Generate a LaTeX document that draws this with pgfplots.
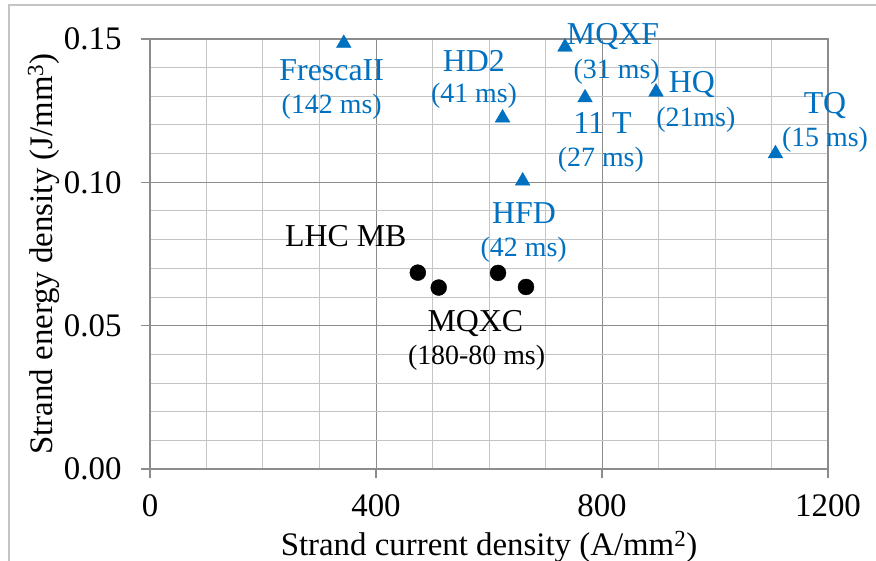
\documentclass[border=0pt]{standalone}
\usepackage{pgfplots}
\pgfplotsset{compat=1.18}
\usepackage{fontspec}
\setmainfont{Liberation Serif}
\definecolor{xblue}{HTML}{0070C0}
\definecolor{majgrid}{HTML}{8C8C8C}
\definecolor{mingrid}{HTML}{C4C4C4}
\newcommand{\bigf}{\fontsize{32}{38}\selectfont}
\newcommand{\labf}{\fontsize{33}{39}\selectfont}
\newcommand{\smf}{\fontsize{28}{33}\selectfont}
\begin{document}
\begin{tikzpicture}
\useasboundingbox (-150bp,-92bp) rectangle (726bp,469bp);
\draw[mingrid, line width=1.2bp] (-141bp,-92bp) -- (-141bp,464bp) -- (726bp,464bp);
\begin{axis}[
  scale only axis, width=678bp, height=430bp,
  xmin=0, xmax=1200, ymin=0, ymax=0.15,
  xtick={0,400,800,1200}, ytick={0,0.05,0.1,0.15},
  minor x tick num=3, minor y tick num=4,
  grid=both,
  major grid style={majgrid, line width=1bp},
  minor grid style={mingrid, line width=1bp},
  axis line style={majgrid, line width=1.2bp},
  xtick pos=bottom, ytick pos=left,
  tick align=outside, major tick length=9bp, minor tick length=0pt,
  tick style={majgrid, line width=1.2bp},
  /pgf/number format/assume math mode=true,
  ticklabel style={font=\labf, text=black},
  scaled y ticks=false,
  yticklabel style={/pgf/number format/fixed, /pgf/number format/precision=2, /pgf/number format/fixed zerofill, xshift=-16bp},
  xticklabel style={/pgf/number format/1000 sep={}, yshift=-13bp},
  xlabel={Strand current density (A/mm\textsuperscript{2})},
  ylabel={Strand energy density (J/mm\textsuperscript{3})},
  label style={font=\labf},
  xlabel style={at={(axis description cs:0.5,-0.2)}, anchor=base},
  ylabel style={at={(axis description cs:-0.1445,0.5)}, anchor=base},
  clip=false,
]
\addplot[only marks, mark=triangle*, mark size=8.5, color=xblue, mark options={draw=xblue, fill=xblue}] coordinates {
 (343,0.1485) (624,0.1225) (734.5,0.1472) (770,0.1295) (895.6,0.1315) (1107,0.1100) (659.6,0.1005)};
\addplot[only marks, mark=*, mark size=8, color=black, mark options={draw=black, fill=black}] coordinates {
 (474,0.0685) (511,0.0633) (616,0.0684) (665.5,0.0635)};
\begin{scope}[every node/.style={anchor=base, inner sep=0pt, text=xblue}]
\node[font=\bigf] at (axis cs:321.6,0.13535) {FrescaII};
\node[font=\smf] at (axis cs:321.6,0.12408) {(142 ms)};
\node[font=\bigf] at (axis cs:573,0.13859) {HD2};
\node[font=\smf] at (axis cs:573.5,0.12785) {(41 ms)};
\node[font=\bigf] at (axis cs:819.5,0.14791) {MQXF};
\node[font=\smf] at (axis cs:826,0.13629) {(31 ms)};
\node[font=\bigf] at (axis cs:959,0.13127) {HQ};
\node[font=\smf] at (axis cs:966,0.11941) {(21ms)};
\node[font=\bigf] at (axis cs:801,0.11710) {11 T};
\node[font=\smf] at (axis cs:798,0.10545) {(27 ms)};
\node[font=\bigf] at (axis cs:1194.7,0.12408) {TQ};
\node[font=\smf] at (axis cs:1194.7,0.11243) {(15 ms)};
\node[font=\bigf] at (axis cs:662,0.08571) {HFD};
\node[font=\smf] at (axis cs:661.4,0.07406) {(42 ms)};
\end{scope}
\begin{scope}[every node/.style={anchor=base, inner sep=0pt, text=black}]
\node[font=\bigf] at (axis cs:346.5,0.07755) {LHC MB};
\node[font=\bigf] at (axis cs:576,0.04790) {MQXC};
\node[font=\smf] at (axis cs:578,0.03628) {(180-80 ms)};
\end{scope}
\end{axis}
\end{tikzpicture}
\end{document}
